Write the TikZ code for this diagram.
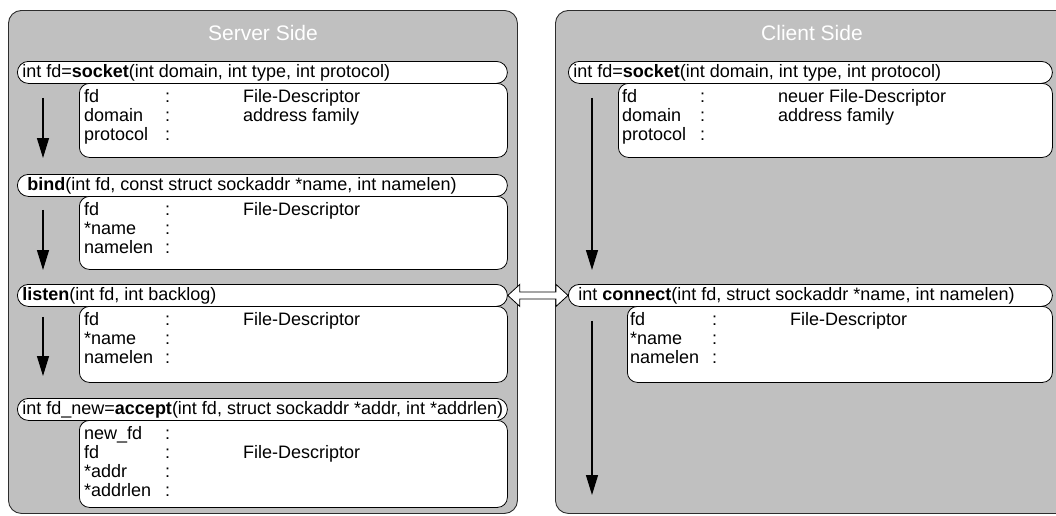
\documentclass[tikz,border=0pt]{standalone}
\usepackage{fontspec}
\setmainfont{Liberation Sans}
\usetikzlibrary{arrows.meta,calc}
\definecolor{panelgray}{RGB}{192,192,192}
\definecolor{edgegray}{RGB}{45,45,45}
% three-column argument table: name, colon, meaning
\newcommand{\arglist}[3]{\begin{tabular}{@{}p{#1}@{}p{#2}@{}l@{}}#3\end{tabular}}
\begin{document}
\begin{tikzpicture}[x=1pt,y=-1pt,
  every node/.style={font=\fontsize{18}{19}\selectfont},
  panel/.style={draw=edgegray, line width=0.9pt, fill=panelgray, rounded corners=13pt,
    anchor=north west, inner sep=0pt, minimum height=503pt},
  sidetitle/.style={text=white, font=\fontsize{21}{24}\selectfont},
  pill/.style={draw=black, line width=0.8pt, fill=white, rounded corners=11pt,
    anchor=north west, minimum height=22pt, inner xsep=5pt, inner ysep=0pt},
  infobox/.style={draw=black, line width=0.8pt, fill=white, rounded corners=10pt,
    anchor=north west, inner sep=0pt},
  infotext/.style={anchor=north west, inner sep=0pt},
  flow/.style={line width=1.3pt, -{Triangle[length=20pt,width=12pt]}},
  link/.style={draw=black, line width=0.8pt, fill=white},
]
\useasboundingbox (0,0) rectangle (1056,515);
\clip (0,0) rectangle (1056,515);

% ---------- panels ----------
\node[panel, minimum width=509pt] (server) at (8,10) {};
\node[panel, minimum width=530pt] (client) at (555,10) {};
\node[sidetitle] (stitle) at ($(server.north)+(0,23)$) {Server Side};
\node[sidetitle] (ctitle) at (812,33) {Client Side};

% ---------- server calls ----------
\node[pill] (s1) at (17,61) {\makebox[480pt][l]{int fd=\textbf{socket}(int domain, int type, int protocol)}};
\node[infobox, minimum width=428pt, minimum height=74pt] (s1box) at (79,83) {};
\node[infotext] (s1txt) at ($(s1box.north west)+(5,5.5)$)
  {\arglist{81pt}{78pt}{fd & : & File-Descriptor\\ domain & : & address family\\ protocol & : & }};

\node[pill] (s2) at (17,174) {\makebox[480pt][l]{\hspace{5pt}\textbf{bind}(int fd, const struct sockaddr *name, int namelen)}};
\node[infobox, minimum width=428pt, minimum height=73pt] (s2box) at (79,196) {};
\node[infotext] (s2txt) at ($(s2box.north west)+(5,5.5)$)
  {\arglist{81pt}{78pt}{fd & : & File-Descriptor\\ {*}name & : & \\ namelen & : & }};

\node[pill] (s3) at (17,284) {\makebox[480pt][l]{\textbf{listen}(int fd, int backlog)}};
\node[infobox, minimum width=428pt, minimum height=76pt] (s3box) at (79,306) {};
\node[infotext] (s3txt) at ($(s3box.north west)+(5,5.5)$)
  {\arglist{81pt}{78pt}{fd & : & File-Descriptor\\ {*}name & : & \\ namelen & : & }};

\node[pill] (s4) at (17,398) {\makebox[480pt][l]{int fd\_new=\textbf{accept}(int fd, struct sockaddr *addr, int *addrlen)}};
\node[infobox, minimum width=428pt, minimum height=87pt] (s4box) at (79,420) {};
\node[infotext] (s4txt) at ($(s4box.north west)+(5,5.5)$)
  {\arglist{81pt}{78pt}{new\_fd & : & \\ fd & : & File-Descriptor\\ {*}addr & : & \\ {*}addrlen & : & }};

% ---------- client calls ----------
\node[pill] (c1) at (568,61) {\makebox[474pt][l]{int fd=\textbf{socket}(int domain, int type, int protocol)}};
\node[infobox, minimum width=434pt, minimum height=74pt] (c1box) at (618,83) {};
\node[infotext] (c1txt) at ($(c1box.north west)+(4,5.5)$)
  {\arglist{78pt}{78pt}{fd & : & neuer File-Descriptor\\ domain & : & address family\\ protocol & : & }};

\node[pill] (c2) at (568,284) {\makebox[474pt][l]{\hspace{5pt}int \textbf{connect}(int fd, struct sockaddr *name, int namelen)}};
\node[infobox, minimum width=425pt, minimum height=76pt] (c2box) at (627,306) {};
\node[infotext] (c2txt) at ($(c2box.north west)+(3,5.5)$)
  {\arglist{82pt}{78pt}{fd & : & File-Descriptor\\ {*}name & : & \\ namelen & : & }};
\coordinate (cend) at (592,495);

% ---------- sequence arrows ----------
\draw[flow] ($(s1.south west)+(26,14)$) -- ($(s2.north west)+(26,-16)$);
\draw[flow] ($(s2.south west)+(26,13)$) -- ($(s3.north west)+(26,-14)$);
\draw[flow] ($(s3.south west)+(26,10)$) -- ($(s4.north west)+(26,-22)$);
\draw[flow] ($(c1.south west)+(24,14)$) -- ($(c2.north west)+(24,-14)$);
\draw[flow] ($(c2.south west)+(24,14)$) -- (cend);

% ---------- listen <-> connect ----------
\draw[link] (s3.east) -- ++(12,-11) -- ++(0,7.5)
  -- ($(c2.west)+(-12,-3.5)$) -- ++(0,-7.5) -- (c2.west)
  -- ++(-12,11) -- ++(0,-7.5)
  -- ($(s3.east)+(12,3.5)$) -- ++(0,7.5) -- cycle;
\end{tikzpicture}
\end{document}
